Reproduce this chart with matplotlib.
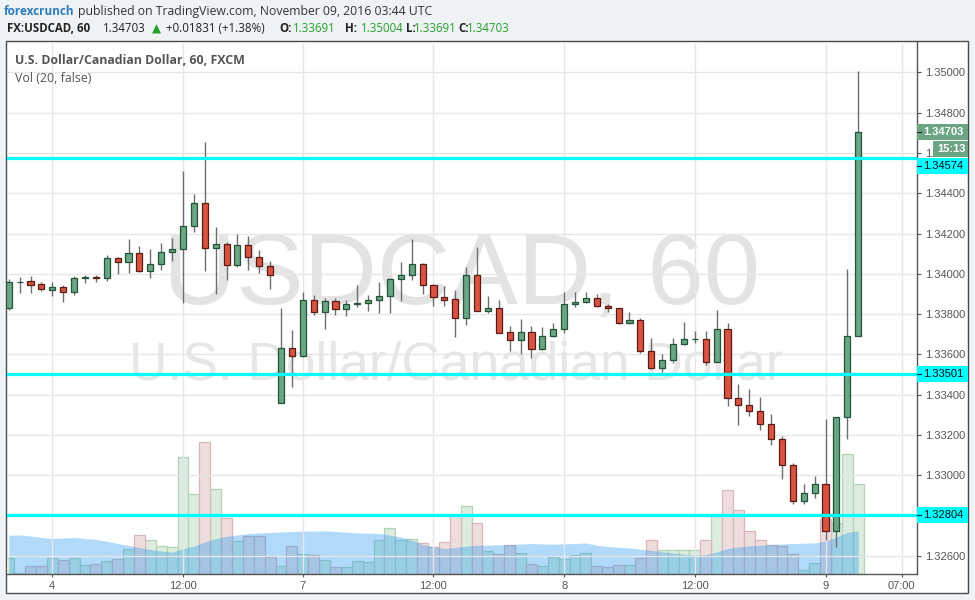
import matplotlib
matplotlib.use("Agg")
import matplotlib.pyplot as plt
from matplotlib.patches import Rectangle
from matplotlib.lines import Line2D
from matplotlib import transforms
import numpy as np

# ---------------- data (USDCAD, 60 min, FXCM) ----------------
opens = [1.33832, 1.33958, 1.33963, 1.33948, 1.33921, 1.33933, 1.33908, 1.33978, 1.33983, 1.33978,
         1.34077, 1.34057, 1.34102, 1.34012, 1.34047, 1.34107, 1.34122, 1.34236, 1.34350, 1.34127,
         1.34146, 1.34042, 1.34141, 1.34082, 1.34037, 1.33357, 1.33630, 1.33591, 1.33868, 1.33809,
         1.33864, 1.33824, 1.33849, 1.33855, 1.33868, 1.33890, 1.33973, 1.33993, 1.34049, 1.33943,
         1.33883, 1.33873, 1.33779, 1.33993, 1.33814, 1.33829, 1.33710, 1.33670, 1.33710, 1.33625,
         1.33690, 1.33725, 1.33849, 1.33859, 1.33878, 1.33839, 1.33829, 1.33757, 1.33769, 1.33618,
         1.33534, 1.33571, 1.33650, 1.33675, 1.33676, 1.33561, 1.33725, 1.33382, 1.33347, 1.33318,
         1.33253, 1.33179, 1.33049, 1.32871, 1.32911, 1.32955, 1.32722, 1.33288, 1.33691]
highs = [1.33973, 1.33983, 1.33989, 1.33961, 1.33961, 1.33946, 1.33989, 1.33994, 1.33994, 1.34093,
         1.34085, 1.34173, 1.34138, 1.34123, 1.34151, 1.34179, 1.34510, 1.34396, 1.34653, 1.34232,
         1.34156, 1.34196, 1.34188, 1.34118, 1.34064, 1.33829, 1.33721, 1.33910, 1.33895, 1.33880,
         1.33880, 1.33870, 1.33944, 1.33895, 1.33961, 1.33978, 1.34059, 1.34173, 1.34054, 1.33948,
         1.33938, 1.33918, 1.34034, 1.34133, 1.33890, 1.33868, 1.33739, 1.33774, 1.33739, 1.33734,
         1.33754, 1.33910, 1.33910, 1.33910, 1.33898, 1.33849, 1.33832, 1.33809, 1.33779, 1.33680,
         1.33600, 1.33680, 1.33761, 1.33716, 1.33716, 1.33819, 1.33754, 1.33452, 1.33427, 1.33387,
         1.33303, 1.33194, 1.33060, 1.32955, 1.32995, 1.33279, 1.33288, 1.34024, 1.35004]
lows = [1.33820, 1.33906, 1.33906, 1.33916, 1.33891, 1.33862, 1.33896, 1.33953, 1.33961, 1.33966,
        1.33998, 1.34003, 1.34010, 1.33981, 1.34017, 1.34065, 1.33854, 1.34209, 1.34012, 1.33900,
        1.33968, 1.34032, 1.34017, 1.34003, 1.33923, 1.33357, 1.33437, 1.33586, 1.33797, 1.33728,
        1.33797, 1.33792, 1.33834, 1.33817, 1.33807, 1.33804, 1.33866, 1.33971, 1.33901, 1.33842,
        1.33842, 1.33688, 1.33747, 1.33814, 1.33807, 1.33705, 1.33615, 1.33603, 1.33581, 1.33620,
        1.33685, 1.33705, 1.33834, 1.33854, 1.33834, 1.33812, 1.33752, 1.33752, 1.33608, 1.33529,
        1.33514, 1.33556, 1.33645, 1.33655, 1.33549, 1.33561, 1.33345, 1.33251, 1.33296, 1.33226,
        1.33152, 1.32983, 1.32856, 1.32856, 1.32885, 1.32679, 1.32646, 1.33182, 1.33691]
closes = [1.33958, 1.33961, 1.33946, 1.33923, 1.33933, 1.33908, 1.33978, 1.33983, 1.33978, 1.34077,
          1.34057, 1.34102, 1.34012, 1.34047, 1.34107, 1.34122, 1.34236, 1.34350, 1.34127, 1.34146,
          1.34042, 1.34141, 1.34082, 1.34037, 1.33993, 1.33630, 1.33591, 1.33868, 1.33809, 1.33864,
          1.33824, 1.33849, 1.33855, 1.33870, 1.33890, 1.33973, 1.33993, 1.34049, 1.33943, 1.33883,
          1.33871, 1.33779, 1.33993, 1.33814, 1.33829, 1.33705, 1.33670, 1.33710, 1.33625, 1.33690,
          1.33725, 1.33849, 1.33859, 1.33878, 1.33839, 1.33829, 1.33757, 1.33769, 1.33618, 1.33534,
          1.33571, 1.33650, 1.33675, 1.33676, 1.33561, 1.33725, 1.33382, 1.33347, 1.33318, 1.33253,
          1.33179, 1.33049, 1.32871, 1.32911, 1.32955, 1.32722, 1.33288, 1.33691, 1.34703]
volumes = [1530, 100, 730, 730, 1530, 1330, 1530, 830, 930, 1230,
           1430, 2430, 3830, 3330, 2730, 2630, 11630, 7930, 13130, 8500,
           5600, 3230, 3730, 3730, 1630, 730, 2730, 1930, 1830, 1330,
           700, 700, 1230, 1130, 3400, 4600, 3330, 3500, 3030, 2660,
           3130, 5730, 6730, 5100, 2300, 2000, 2830, 2100, 930, 800,
           1700, 1500, 1900, 2100, 800, 700, 900, 830, 1600, 3330,
           2330, 2400, 2330, 2400, 3400, 5730, 8400, 6400, 4270, 3400,
           2900, 2730, 2000, 330, 1100, 5430, 5100, 11930, 8930]
vol_ma = [3830, 3850, 3750, 3600, 3500, 3550, 3600, 3500, 3400, 3230,
          3000, 2800, 2600, 2400, 2250, 2130, 2500, 2730, 3160, 3500,
          3730, 3860, 4000, 4050, 4100, 4150, 4200, 4230, 4250, 4260,
          4200, 4130, 4060, 4030, 4000, 3830, 3660, 3330, 2900, 2660,
          2500, 2600, 2730, 2830, 2830, 2860, 2900, 2950, 3000, 2960,
          2930, 2960, 3000, 3060, 2830, 2700, 2620, 2560, 2440, 2330,
          2160, 2050, 1930, 1830, 1900, 2160, 2500, 2650, 2760, 2830,
          2900, 2950, 3000, 3030, 3060, 3230, 3660, 4100, 4260]
time_tick_pos = [4, 16, 27, 39, 51, 63, 75, 82]
time_tick_labels = ["4", "12:00", "7", "12:00", "8", "12:00", "9", "07:00"]
price_ticks = [1.326, 1.328, 1.330, 1.332, 1.334, 1.336, 1.338, 1.340,
               1.342, 1.344, 1.346, 1.348, 1.350]
levels = [1.34574, 1.33501, 1.32804]
last_price = 1.34703
countdown = "15:13"

# ---------------- figure layout ----------------
W, H = 975, 600
fig = plt.figure(figsize=(W / 100, H / 100), dpi=100, facecolor='#f0f3f6')


def fx(px):
    return px / W


def fy(py):
    return 1 - py / H


# chart frame
fig.patches.append(Rectangle((fx(6), fy(593)), fx(968) - fx(6), fy(41) - fy(593),
                             transform=fig.transFigure, facecolor='white',
                             edgecolor='#4a4a4a', lw=1.0, zorder=0))

AX_L, AX_R, AX_T, AX_B = 7, 917, 42, 573.5
rect = [fx(AX_L), fy(AX_B), (AX_R - AX_L) / W, (AX_B - AX_T) / H]
ax_vol = fig.add_axes(rect, zorder=1)
ax = fig.add_axes(rect, zorder=2, facecolor='none')

n = len(opens)
x = np.arange(n)
o = np.array(opens); hi = np.array(highs); lo = np.array(lows); c = np.array(closes)
up = c >= o

XLIM = (-0.16, 83.4)
YLIM = (1.325127, 1.351504)

# ---------------- volume ----------------
ax_vol.set_axis_off()
ax_vol.set_xlim(*XLIM)
ax_vol.set_ylim(0, 53150)
v = np.array(volumes)
ax_vol.bar(x[up], v[up], width=1.0, facecolor='#dcecde', edgecolor='#b2d4b7',
           lw=0.9, zorder=1)
ax_vol.bar(x[~up], v[~up], width=1.0, facecolor='#eedddd', edgecolor='#d9b7b9',
           lw=0.9, zorder=1)
ax_vol.fill_between(x, 0, vol_ma, color='#2196f3', alpha=0.35, lw=0, zorder=2)

# ---------------- price ----------------
ax.set_xlim(*XLIM)
ax.set_ylim(*YLIM)

ax.text(0.5, 0.556, "USDCAD, 60", transform=ax.transAxes, ha='center', va='center',
        fontsize=73, color='#e3e3e3', family='Liberation Sans', zorder=0.3)
ax.text(0.494, 0.392, "U.S. Dollar/Canadian Dollar", transform=ax.transAxes,
        ha='center', va='center', fontsize=38.3, color='#e6e6e6',
        family='Liberation Sans', zorder=0.3)

ax.vlines(x, lo, hi, color='#6e6e70', lw=1.0, zorder=3)
ax.bar(x[up], (c - o)[up], bottom=o[up], width=0.56, color='#6ba583',
       edgecolor='#225437', lw=0.9, zorder=4)
ax.bar(x[~up], (o - c)[~up], bottom=c[~up], width=0.56, color='#d75442',
       edgecolor='#5b1a13', lw=0.9, zorder=4)

for lv in levels:
    ax.axhline(lv, color='#00ffff', lw=2.3, zorder=5)

ax.set_yticks(price_ticks)
tick_text = []
for p in price_ticks:
    if abs(p - 1.328) < 1e-9:
        tick_text.append("")          # fully hidden under the 1.32804 label
    elif abs(p - 1.346) < 1e-9:
        tick_text.append("1.")        # only "1." shows beside the timer label
    else:
        tick_text.append(f"{p:.5f}")
ax.set_yticklabels(tick_text)
ax.yaxis.tick_right()
ax.set_xticks(time_tick_pos)
ax.set_xticklabels(time_tick_labels)
ax.grid(True, color='#e6e6e6', lw=1.0)
ax.set_axisbelow(True)
ax.tick_params(axis='y', direction='out', length=3, width=0.8, color='#555555',
               labelcolor='#555555', labelsize=8, pad=3)
ax.tick_params(axis='x', direction='out', length=2.5, width=0.8, color='#555555',
               labelcolor='#555555', labelsize=8, pad=3)
for lab in ax.get_xticklabels() + ax.get_yticklabels():
    lab.set_family('Liberation Sans')
ax.spines['left'].set_visible(False)
ax.spines['top'].set_visible(False)
for s in ('right', 'bottom'):
    ax.spines[s].set_color('#555555')
    ax.spines[s].set_linewidth(1.0)

# legend texts
lx = (15 - AX_L) / (AX_R - AX_L)
ax.text(lx, (AX_B - 61) / (AX_B - AX_T), "U.S. Dollar/Canadian Dollar, 60, FXCM",
        transform=ax.transAxes, ha='left', va='center', fontsize=8.9,
        fontweight='bold', color='#555555', family='Open Sans', zorder=6)
ax.text(lx, (AX_B - 78) / (AX_B - AX_T), "Vol (20, false)", transform=ax.transAxes,
        ha='left', va='center', fontsize=8.9, color='#555555', family='Open Sans',
        zorder=6)

# ---------------- price labels on the right axis ----------------
trans = transforms.blended_transform_factory(fig.transFigure, ax.transData)
dpp = (YLIM[1] - YLIM[0]) / (AX_B - AX_T)   # price per pixel


def price_box(price, label, face, tcolor, x0=917, x1=967.5, shift_px=0.0,
              bold=False, h_px=16, tick=True):
    yc = price - shift_px * dpp
    ax.add_patch(Rectangle((fx(x0), yc - h_px / 2 * dpp), fx(x1) - fx(x0), h_px * dpp,
                           transform=trans, facecolor=face, edgecolor='none',
                           clip_on=False, zorder=10))
    ax.text(fx((x0 + x1) / 2 + 1), yc, label, transform=trans, ha='center', va='center',
            fontsize=8, color=tcolor, family='Liberation Sans',
            fontweight='bold' if bold else 'normal', clip_on=False, zorder=11)
    if tick:
        ax.add_line(Line2D([fx(917), fx(921)], [yc, yc], transform=trans,
                           color='#222222', lw=0.8, clip_on=False, zorder=11))


price_box(last_price, f"{last_price:.5f}", '#6ba583', 'white', bold=True)
price_box(levels[1], f"{levels[1]:.5f}", '#00ffff', '#111111')
price_box(levels[2], f"{levels[2]:.5f}", '#00ffff', '#111111')
price_box(levels[0], f"{levels[0]:.5f}", '#00ffff', '#111111', shift_px=7.7)
price_box(last_price, countdown, '#6ba583', 'white', x0=933, shift_px=16.8,
          bold=True, tick=False)

# ---------------- header ----------------
y1, y2 = fy(11.5), fy(29)
fig.text(fx(4), y1, "forexcrunch", ha='left', va='center', fontsize=8.5,
         fontweight='bold', color='#2b7bbd', family='Open Sans')
fig.text(fx(78), y1, "published on TradingView.com, November 09, 2016 03:44 UTC",
         ha='left', va='center', fontsize=8.8, color='#333333', family='Open Sans')

green = '#23a227'
hdr = [
    (7, "FX:USDCAD, 60", '#222222', 'bold'),
    (103, "1.34703", '#222222', 'normal'),
    (166, "+0.01831 (+1.38%)", '#222222', 'normal'),
    (279, "O:", '#222222', 'bold'), (293, "1.33691", green, 'normal'),
    (345, "H:", '#222222', 'bold'), (360.5, "1.35004", green, 'normal'),
    (406, "L:", '#222222', 'bold'), (414, "1.33691", green, 'normal'),
    (458, "C:", '#222222', 'bold'), (467, "1.34703", green, 'normal'),
]
for px_, s, col, wt in hdr:
    fig.text(fx(px_), y2, s, ha='left', va='center', fontsize=8.3, color=col,
             fontweight=wt, family='Open Sans')
fig.text(fx(152), y2, "\u25B2", ha='left', va='center', fontsize=8.5, color=green,
         family='DejaVu Sans')

fig.savefig("out.png", dpi=100, facecolor=fig.get_facecolor())
